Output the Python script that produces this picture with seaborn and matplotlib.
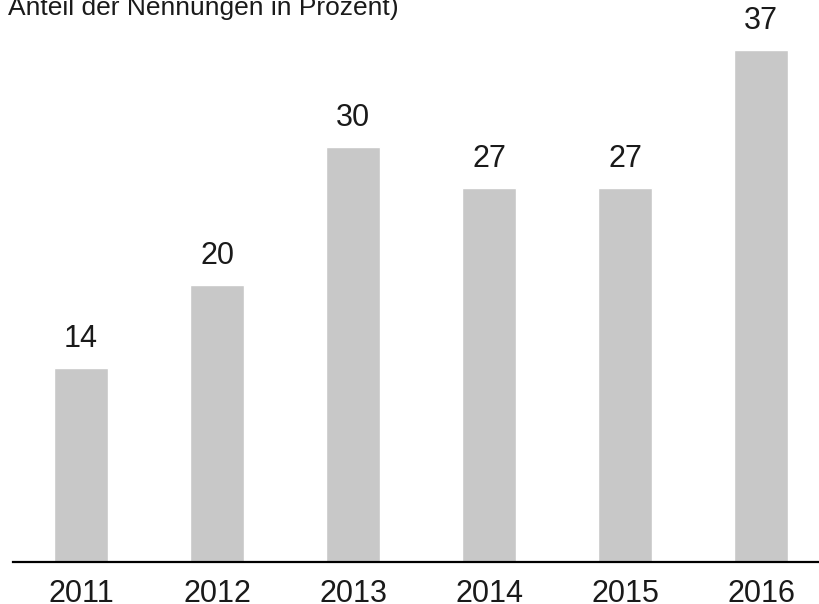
import matplotlib
matplotlib.use("Agg")
import matplotlib.pyplot as plt
import seaborn as sns

# Data
years = ["2011", "2012", "2013", "2014", "2015", "2016"]
shares = [14, 20, 30, 27, 27, 37]
subtitle = "Anteil der Nennungen in Prozent)"

sns.set_style("white")
plt.rcParams["font.family"] = ["Liberation Sans", "DejaVu Sans"]

fig = plt.figure(figsize=(8.19, 6.04), dpi=100)
ax = fig.add_axes([13 / 819, 42 / 604, 1 - 13 / 819, 562 / 604])

sns.barplot(x=years, y=shares, color="#c8c8c8", saturation=1, width=0.4, ax=ax)

ax.bar_label(ax.containers[0], fmt="%d", padding=10, fontsize=22, color="#1a1a1a")

ax.set_xlim(-0.5, 5.426)
ax.set_ylim(0, 40.6)
ax.set_yticks([])
ax.tick_params(axis="x", length=0, pad=12, labelsize=22, colors="#1a1a1a")
for side in ["left", "right", "top"]:
    ax.spines[side].set_visible(False)
ax.spines["bottom"].set_linewidth(1.6)
ax.spines["bottom"].set_color("black")

fig.text(8 / 819, 1 - 15 / 604, subtitle, fontsize=19, color="#1a1a1a",
         ha="left", va="baseline")

fig.savefig("out.png", dpi=100)
